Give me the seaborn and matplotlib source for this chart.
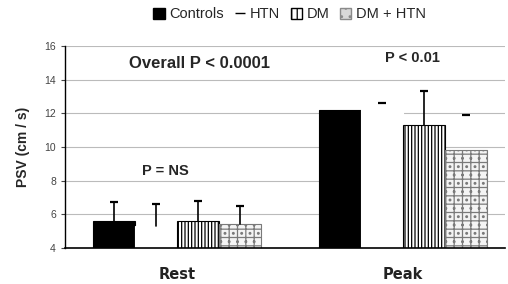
import pandas as pd
import seaborn as sns
import matplotlib.pyplot as plt
from matplotlib.patches import Patch
from matplotlib.lines import Line2D

# values
conditions = ['Rest', 'Peak']
groups = ['Controls', 'HTN', 'DM', 'DM + HTN']
means = {
    'Controls': [5.6, 12.2],
    'HTN': [5.3, 12.5],
    'DM': [5.6, 11.3],
    'DM + HTN': [5.4, 9.8],
}
upper_err = {
    'Controls': [1.1, 0.0],
    'HTN': [1.3, 0.1],
    'DM': [1.2, 2.0],
    'DM + HTN': [1.1, 2.1],
}
# error line drawn or only the cap shows
show_line = {
    'Controls': [True, False],
    'HTN': [True, False],
    'DM': [True, True],
    'DM + HTN': [True, False],
}

rows = []
for g in groups:
    for i, c in enumerate(conditions):
        rows.append({'condition': c, 'group': g, 'psv': means[g][i]})
df = pd.DataFrame(rows)

sns.set_style('white')
plt.rcParams['font.family'] = ['Liberation Sans', 'DejaVu Sans']
plt.rcParams['hatch.linewidth'] = 0.9

fig = plt.figure(figsize=(5.08, 2.84), dpi=100)
ax = fig.add_axes([0.128, 0.127, 0.866, 0.711])

palette = {'Controls': 'black', 'HTN': 'white', 'DM': 'white', 'DM + HTN': '#f4f4f4'}
sns.barplot(data=df, x='condition', y='psv', hue='group', order=conditions,
            hue_order=groups, palette=palette, errorbar=None, width=0.743,
            gap=0, saturation=1, ax=ax, legend=False, zorder=2)

styles = {
    'Controls': dict(edgecolor='black', hatch=None),
    'HTN': dict(edgecolor='white', hatch=None),
    'DM': dict(edgecolor='black', hatch='|||||'),
    'DM + HTN': dict(edgecolor='#7a7a7a', hatch='++..'),
}
patches = ax.patches
for k, g in enumerate(groups):
    for i in range(len(conditions)):
        p = patches[k * len(conditions) + i]
        st = styles[g]
        p.set_edgecolor(st['edgecolor'])
        p.set_linewidth(0.8)
        if st['hatch']:
            p.set_hatch(st['hatch'])
        xc = p.get_x() + p.get_width() / 2
        top = p.get_y() + p.get_height()
        err = upper_err[g][i]
        if err > 0:
            if show_line[g][i]:
                ax.plot([xc, xc], [top, top + err], color='black', lw=1.2, zorder=3)
            ax.plot([xc], [top + err], marker='_', markersize=6, mew=1.6,
                    color='black', zorder=3)

ax.set_ylim(4, 16)
ax.set_xlim(-0.496, 1.45)
ax.set_yticks(range(4, 17, 2))
ax.yaxis.grid(True, color='#bbbbbb', linewidth=0.8, zorder=0)
ax.set_axisbelow(True)
for s in ['top', 'right']:
    ax.spines[s].set_visible(False)
ax.spines['left'].set_color('black')
ax.spines['bottom'].set_color('black')
ax.spines['left'].set_linewidth(1.0)
ax.spines['bottom'].set_linewidth(1.2)

ax.tick_params(axis='y', labelsize=7.5, colors='#444444', length=3, direction='out', left=True)
ax.tick_params(axis='x', length=0, pad=14)
for lbl in ax.get_xticklabels():
    lbl.set_fontweight('bold')
    lbl.set_fontsize(10.5)
    lbl.set_family(['DejaVu Sans'])
    lbl.set_color('#222222')
ax.set_xlabel('')
ax.set_ylabel('PSV (cm / s)', fontsize=10, fontweight='bold', labelpad=10)

box = dict(facecolor='white', edgecolor='none', pad=2)
ax.text(0.1, 14.95, 'Overall P < 0.0001', ha='center', va='center',
        fontsize=12, fontweight='bold', bbox=box, zorder=4)
ax.text(1.04, 15.3, 'P < 0.01', ha='center', va='center',
        fontsize=10.5, fontweight='bold', bbox=box, zorder=4)
ax.text(-0.05, 8.6, 'P = NS', ha='center', va='center',
        fontsize=10.5, fontweight='bold', bbox=box, zorder=4)

handles = [
    Patch(facecolor='black', edgecolor='black'),
    Line2D([], [], color='black', marker='_', linestyle='none', markersize=7),
    Patch(facecolor='white', edgecolor='black', hatch='|||'),
    Patch(facecolor='#d8d8d8', edgecolor='#8a8a8a', hatch='..'),
]
fig.legend(handles, groups, loc='center', bbox_to_anchor=(0.57, 0.95), ncol=4,
           frameon=False, fontsize=10.5, handlelength=0.8, handleheight=0.8,
           handletextpad=0.3, columnspacing=0.7)

fig.savefig('out.png', dpi=100)
